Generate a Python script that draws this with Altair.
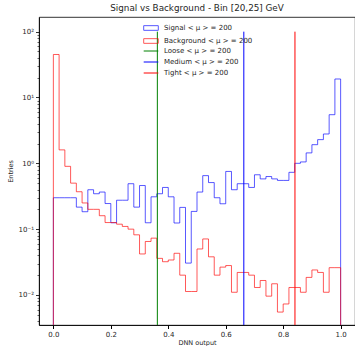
import altair as alt
import pandas as pd

# ---- histogram binning: 50 bins on [0, 1] ----
n_bins = 50
bin_width = 0.02
bin_edges = [round(i * bin_width, 2) for i in range(n_bins + 1)]

signal_counts = [
    0.30, 0.30, 0.30, 0.30, 0.216, 0.184, 0.397, 0.345, 0.366, 0.245,
    0.125, 0.275, 0.275, 0.49, 0.216, 0.46, 0.125, 0.31, 0.345, 0.43,
    0.31, 0.124, 0.214, 0.0305, 0.186, 0.366, 0.65, 0.51, 0.30, 0.243,
    0.753, 0.397, 0.49, 0.49, 0.43, 0.67, 0.58, 0.63, 0.58, 0.55,
    0.55, 0.73, 1.0, 1.05, 1.44, 1.92, 2.29, 2.79, 5.48, 19.1,
]

background_counts = [
    45.0, 1.6, 0.90, 0.50, 0.37, 0.25, 0.20, 0.20, 0.16, 0.126,
    0.126, 0.119, 0.11, 0.10, 0.082, 0.042, 0.065, 0.073, 0.036, 0.032,
    0.034, 0.043, 0.020, 0.0113, 0.0113, 0.050, 0.071, 0.038, 0.020, 0.0265,
    0.028, 0.011, 0.022, 0.022, 0.020, 0.013, 0.0166, 0.0096, 0.0148, 0.0055,
    0.0073, 0.013, 0.013, 0.011, 0.0185, 0.024, 0.022, 0.011, 0.026, 0.026,
]

hist_names = ["Signal  < μ > = 200", "Background  < μ > = 200"]
hist_colors = ["#0000ff", "#ff0000"]

# working-point cuts on the DNN output
cut_names = ["Loose  < μ > = 200", "Medium  < μ > = 200", "Tight  < μ > = 200"]
cut_values = [0.362, 0.663, 0.841]
cut_colors = ["#008000", "#0000ff", "#ff0000"]
cut_top = 100

y_domain = [0.0035, 167]
floor_value = 1e-4  # below the axis, so the step outline runs off the bottom

major_ticks = [0.01, 0.1, 1, 10, 100]
minor_ticks = [m * 10.0 ** e for e in range(-3, 2) for m in range(2, 10)]
y_ticks = sorted(major_ticks + [t for t in minor_ticks if y_domain[0] <= t <= y_domain[1]])
x_ticks = [0.0, 0.2, 0.4, 0.6, 0.8, 1.0]

FONT = "DejaVu Sans"
TEXT = "#262626"

# step outline (histtype="step") for each sample
rows = []
for name, counts in zip(hist_names, [signal_counts, background_counts]):
    pts = [(bin_edges[0], floor_value)]
    pts += list(zip(bin_edges[:-1], counts))
    pts += [(bin_edges[-1], counts[-1]), (bin_edges[-1], floor_value)]
    for k, (x, y) in enumerate(pts):
        rows.append({"series": name, "order": k, "x": x, "y": y})
hist_df = pd.DataFrame(rows)

cuts_df = pd.DataFrame({
    "cut": cut_names,
    "x": cut_values,
    "y_lo": [floor_value] * len(cut_values),
    "y_hi": [cut_top] * len(cut_values),
})

x_scale = alt.Scale(domain=[-0.05, 1.05], nice=False, zero=False)
y_scale = alt.Scale(type="log", domain=y_domain, nice=False)

major_test = "indexof([0.01, 0.1, 1, 10, 100], datum.value) >= 0"
y_label_expr = (
    "datum.value == 100 ? '10²' : datum.value == 10 ? '10¹' : "
    "datum.value == 1 ? '10⁰' : datum.value == 0.1 ? '10⁻¹' : "
    "datum.value == 0.01 ? '10⁻²' : ''"
)

x_axis = alt.Axis(
    values=x_ticks, format=".1f", title="DNN output", grid=False,
    tickSize=3.5, labelPadding=2, titlePadding=2, labelFontSize=7,
)
y_axis = alt.Axis(
    values=y_ticks, labelExpr=y_label_expr, title="Entries", grid=False,
    tickSize={"condition": {"test": major_test, "value": 3.5}, "value": 2},
    tickWidth={"condition": {"test": major_test, "value": 0.8}, "value": 0.6},
    labelPadding=2, titlePadding=5, labelFontSize=7,
)

hist = alt.Chart(hist_df).mark_line(
    interpolate="step-after", strokeWidth=1, opacity=0.65, clip=True
).encode(
    x=alt.X("x:Q", scale=x_scale, axis=x_axis),
    y=alt.Y("y:Q", scale=y_scale, axis=y_axis),
    color=alt.Color(
        "series:N",
        scale=alt.Scale(domain=hist_names, range=hist_colors),
        legend=alt.Legend(
            title=None, orient="none", legendX=104, legendY=3,
            symbolType="M-1,-0.32H1V0.32H-1Z", symbolSize=213,
            symbolStrokeWidth=1, symbolFillColor="transparent",
            labelFont=FONT, labelFontSize=7, labelColor=TEXT,
            labelOffset=5, rowPadding=0, padding=0,
        ),
    ),
    order="order:Q",
)

cuts = alt.Chart(cuts_df).mark_rule(strokeWidth=1, clip=True).encode(
    x=alt.X("x:Q", scale=x_scale),
    y=alt.Y("y_lo:Q", scale=y_scale),
    y2="y_hi:Q",
    stroke=alt.Stroke(
        "cut:N",
        scale=alt.Scale(domain=cut_names, range=cut_colors),
        legend=alt.Legend(
            title=None, orient="none", legendX=104, legendY=26,
            symbolType="stroke", symbolSize=213, symbolStrokeWidth=1,
            labelFont=FONT, labelFontSize=7, labelColor=TEXT,
            labelOffset=5, rowPadding=0, padding=0,
        ),
    ),
)

chart = alt.layer(hist, cuts).properties(
    width=316,
    height=308,
    padding={"left": 39, "top": 17, "right": 0, "bottom": 21},
    autosize=alt.AutoSizeParams(type="none"),
    title=alt.TitleParams(
        "Signal vs Background - Bin [20,25] GeV",
        font=FONT, fontSize=8.8, fontWeight="normal", color=TEXT,
        anchor="middle", offset=4,
    ),
).configure_view(
    stroke="black", strokeWidth=0.8
).configure_axis(
    domainColor="black", domainWidth=0.8, tickColor="black",
    labelFont=FONT, labelFontSize=7, labelColor=TEXT,
    titleFont=FONT, titleFontSize=6.5, titleColor=TEXT, titleFontWeight="normal",
)

chart.save("out.html", embed_options={"renderer": "svg", "actions": False})
